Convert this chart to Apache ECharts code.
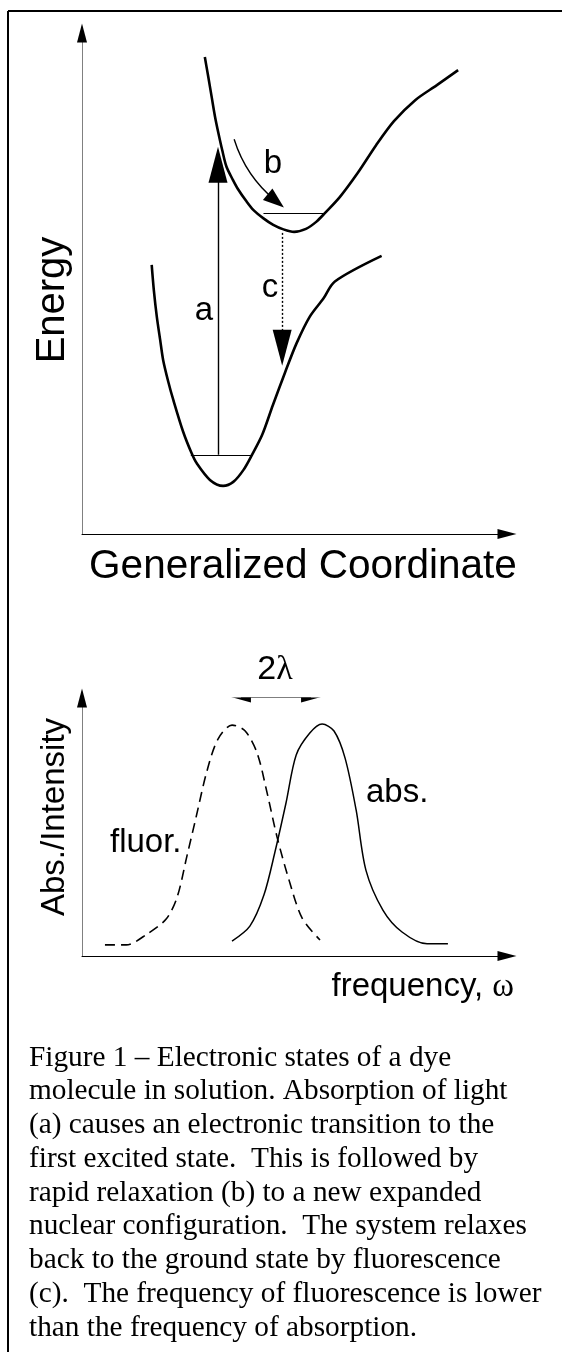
<!DOCTYPE html>
<html>
<head>
<meta charset="utf-8">
<title>Electronic states of a dye molecule</title>
<script src="https://cdn.jsdelivr.net/npm/echarts@6/dist/echarts.min.js"></script>
<style>
  html, body { margin: 0; padding: 0; background: #fff; }
  #main { width: 562px; height: 1352px; }
</style>
</head>
<body>
<div id="main"></div>
<script>
// 上图: 势能曲线 (x = generalized coordinate, y = energy, arbitrary units 0-100)
const excitedCurve = [
  [28.9, 95.2], [29.7, 91.3], [30.5, 87.3], [31.3, 83.3], [32.1, 80.0], [33.0, 76.6],
  [34.0, 73.3], [35.5, 70.7], [36.8, 68.7], [38.6, 66.5], [40.3, 64.7], [42.7, 63.0],
  [45.0, 61.7], [47.4, 60.8], [49.9, 60.3], [52.7, 60.9], [55.1, 62.3], [57.2, 64.1],
  [60.7, 67.3], [64.9, 72.1], [69.2, 77.6], [73.4, 82.4], [78.4, 86.6], [83.5, 89.6],
  [88.5, 92.6]
]
const groundCurve = [
  [16.4, 53.7], [16.9, 48.7], [17.6, 43.4], [18.4, 38.7], [19.1, 34.7], [20.3, 30.4],
  [21.5, 26.7], [23.8, 20.4], [25.8, 16.1], [27.0, 14.1], [30.1, 10.8], [33.2, 9.6],
  [35.6, 10.4], [38.0, 12.8], [40.0, 15.8], [42.4, 19.8], [44.9, 25.7], [47.8, 32.3],
  [50.5, 38.1], [53.6, 43.4], [56.8, 47.0], [59.5, 50.4], [70.5, 55.5]
]
// vibrational levels
const excitedLevel = [[42.7, 64.0], [57.2, 64.0]]
const groundLevel = [[25.6, 15.8], [39.8, 15.8]]
// transitions: a = absorption, b = relaxation, c = fluorescence
const arrowA = [[32.0, 15.8], [32.0, 73.7]]
const arrowB = [[35.8, 78.8], [45.6, 66.5]]
const arrowC = [[47.1, 60.1], [47.1, 37.2]]

// 下图: spectra (x = frequency, y = abs./intensity, 0-100)
const fluorCurve = [
  [5.4, 4.3], [10.4, 4.3], [15.3, 8.5], [19.8, 14.3], [22.4, 22.9], [24.7, 38.8],
  [26.8, 53.5], [29.4, 71.7], [32.0, 84.1], [35.3, 89.5], [38.4, 87.2], [41.2, 78.7],
  [43.5, 63.6], [45.9, 46.1], [48.7, 29.5], [51.8, 14.7], [56.0, 6.2]
]
const absCurve = [
  [35.3, 5.8], [39.5, 11.6], [42.8, 23.6], [45.4, 40.3], [48.0, 59.3], [50.4, 77.9],
  [53.6, 86.4], [56.5, 89.9], [59.3, 87.2], [61.9, 76.7], [64.5, 56.6], [66.8, 33.3],
  [70.8, 17.8], [75.3, 9.3], [81.2, 4.7], [86.1, 4.7]
]
// 2λ shift between the two peaks
const shiftArrow = [[37.4, 100.4], [53.9, 100.4]]

const captionLines = [
  'Figure 1 \u2013 Electronic states of a dye',
  'molecule in solution. Absorption of light',
  '(a) causes an electronic transition to the',
  'first excited state.  This is followed by',
  'rapid relaxation (b) to a new expanded',
  'nuclear configuration.  The system relaxes',
  'back to the ground state by fluorescence',
  '(c).  The frequency of fluorescence is lower',
  'than the frequency of absorption.'
]

const SANS = '"Liberation Sans", Arial, Helvetica, sans-serif'
const SERIF = '"Liberation Serif", "Times New Roman", serif'

function valueAxis(gridIndex, lineColor, lineWidth, arrow) {
  return {
    type: 'value',
    gridIndex: gridIndex,
    min: 0,
    max: 100,
    axisLine: {
      show: true,
      onZero: false,
      symbol: arrow ? ['none', 'triangle'] : 'none',
      symbolSize: [10, 19],
      lineStyle: { color: lineColor, width: lineWidth }
    },
    axisTick: { show: false },
    axisLabel: { show: false },
    splitLine: { show: false }
  }
}

// y axes come in pairs: a grey line, plus a zero-width one that only draws the black arrow
function yAxis(gridIndex, lineColor, lineWidth, arrow) {
  const a = valueAxis(gridIndex, lineColor, lineWidth, arrow)
  a.position = 'left'
  return a
}

function curve(data, xi, yi, width, type) {
  return {
    type: 'line',
    xAxisIndex: xi,
    yAxisIndex: yi,
    data: data,
    smooth: 0.3,
    showSymbol: false,
    symbol: 'none',
    silent: true,
    lineStyle: { color: '#000', width: width, type: type || 'solid' }
  }
}

function arrows(list, xi, yi, opts) {
  return {
    type: 'lines',
    coordinateSystem: 'cartesian2d',
    xAxisIndex: xi,
    yAxisIndex: yi,
    silent: true,
    symbol: opts.symbol || 'none',
    symbolSize: opts.symbolSize || 0,
    lineStyle: {
      color: '#000',
      width: opts.width || 1,
      opacity: 1,
      type: opts.type || 'solid',
      curveness: opts.curveness || 0
    },
    data: list.map(function (c) { return { coords: c } })
  }
}

function label(text, x, y, size, align, extra) {
  return Object.assign({
    type: 'text',
    x: x,
    y: y,
    silent: true,
    style: {
      text: text,
      font: size + 'px ' + SANS,
      fill: '#000',
      align: align || 'center',
      textAlign: align || 'center',
      verticalAlign: 'middle',
      textVerticalAlign: 'middle'
    }
  }, extra || {})
}

const myChart = echarts.init(document.getElementById('main'), null, { renderer: 'canvas' })

myChart.setOption({
  animation: false,
  backgroundColor: '#fff',
  textStyle: { fontFamily: SANS },
  grid: [
    { left: 82, right: 55, top: 33, bottom: 818, containLabel: false, outerBoundsMode: 'none' },
    { left: 82, right: 55, top: 698, bottom: 396, containLabel: false, outerBoundsMode: 'none' }
  ],
  xAxis: [
    valueAxis(0, '#000', 1, true),
    valueAxis(1, '#000', 1, true)
  ],
  yAxis: [
    yAxis(0, '#808080', 1, false),
    yAxis(0, '#000', 0, true),
    yAxis(1, '#808080', 1, false),
    yAxis(1, '#000', 0, true)
  ],
  series: [
    curve(excitedCurve, 0, 0, 2.6),
    curve(groundCurve, 0, 0, 2.6),
    arrows([excitedLevel, groundLevel], 0, 0, { width: 1 }),
    arrows([arrowA], 0, 0, { width: 1.4, symbol: ['none', 'triangle'], symbolSize: [0, [19, 36]] }),
    arrows([arrowC], 0, 0, { width: 1.4, type: [2, 2], symbol: ['none', 'triangle'], symbolSize: [0, [19, 36]] }),
    arrows([arrowB], 0, 0, { width: 1.4, curveness: -0.15, symbol: ['none', 'triangle'], symbolSize: [0, [15, 21]] }),
    curve(fluorCurve, 1, 2, 1.6, [10, 6]),
    curve(absCurve, 1, 2, 1.5),
    arrows([shiftArrow], 1, 2, { width: 1.2, symbol: ['triangle', 'triangle'], symbolSize: [[11, 20], [11, 20]] })
  ],
  graphic: [
    // frame (only top and left edges fall inside the picture)
    { type: 'line', silent: true, shape: { x1: 8, y1: 11, x2: 562, y2: 11 }, style: { stroke: '#000', lineWidth: 2 } },
    { type: 'line', silent: true, shape: { x1: 8, y1: 11, x2: 8, y2: 1352 }, style: { stroke: '#000', lineWidth: 2 } },
    // top panel texts
    label('Energy', 53, 300, 40, 'center', { rotation: Math.PI / 2 }),
    label('Generalized Coordinate', 303, 567, 40.5),
    label('a', 204, 311, 33),
    label('b', 273, 164, 33),
    label('c', 270, 288, 33),
    // bottom panel texts
    {
      type: 'text', x: 275, y: 670, silent: true,
      style: {
        text: '{s|2}{g|\u03bb}',
        rich: { s: { font: '34px ' + SANS }, g: { font: '34px ' + SERIF } },
        fill: '#000', align: 'center', textAlign: 'center', verticalAlign: 'middle', textVerticalAlign: 'middle'
      }
    },
    label('fluor.', 110, 843, 33, 'left'),
    label('abs.', 366, 793, 33, 'left'),
    label('Abs./Intensity', 55, 817, 33, 'center', { rotation: Math.PI / 2 }),
    {
      type: 'text', x: 514, y: 987, silent: true,
      style: {
        text: '{s|frequency, }{g|\u03c9}',
        rich: { s: { font: '33px ' + SANS }, g: { font: '33px ' + SERIF } },
        fill: '#000', align: 'right', textAlign: 'right', verticalAlign: 'middle', textVerticalAlign: 'middle'
      }
    },
    // caption
    {
      type: 'text', x: 29, y: 1041, silent: true,
      style: {
        text: captionLines.join('\n'),
        font: '29.3px ' + SERIF,
        lineHeight: 33.75,
        fill: '#000',
        align: 'left', textAlign: 'left', verticalAlign: 'top', textVerticalAlign: 'top'
      }
    }
  ]
})

window.addEventListener('resize', function () {
  myChart.resize()
})
</script>
</body>
</html>
